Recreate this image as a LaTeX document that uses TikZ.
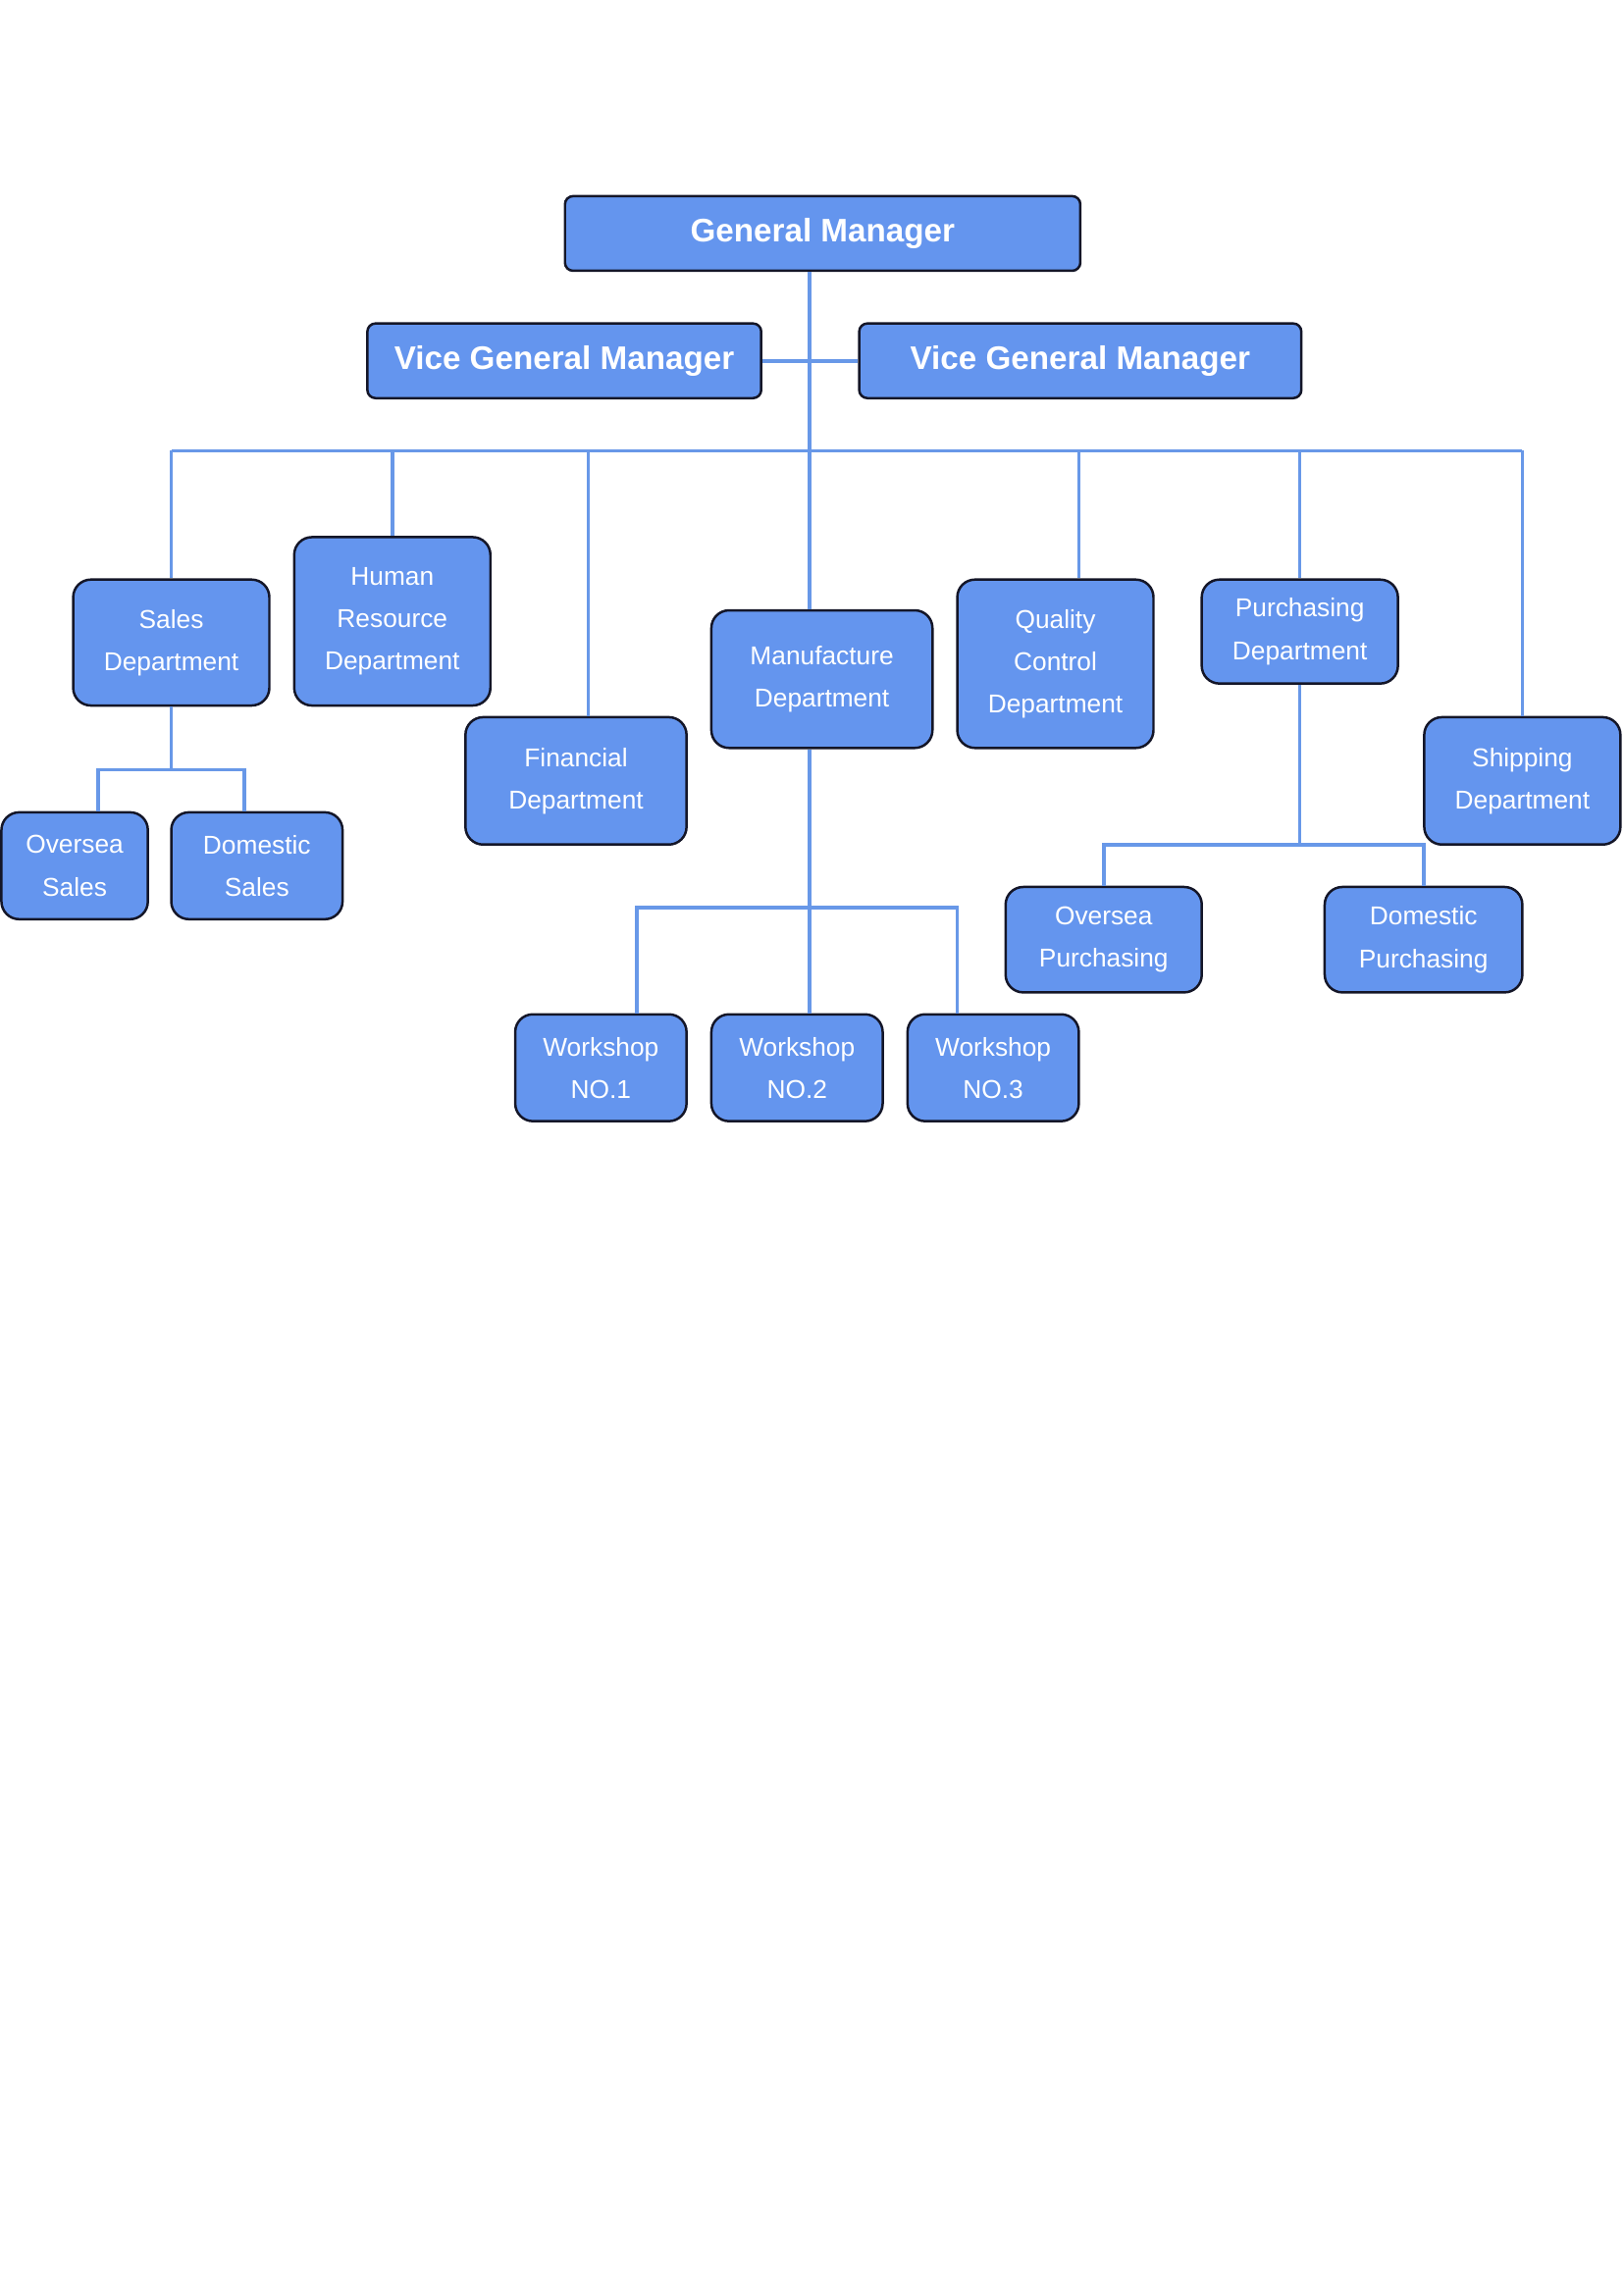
\documentclass[tikz,border=0pt]{standalone}
\usepackage{fontspec}
\setmainfont{Liberation Sans}
\usepackage{tikz}
\usetikzlibrary{positioning,calc}

\definecolor{boxblue}{RGB}{100,149,238}
\definecolor{linkblue}{RGB}{104,152,232}
\definecolor{boxline}{RGB}{20,22,40}

\begin{document}
\begin{tikzpicture}[x=0.01894cm, y=-0.01894cm,
    boxsize/.style 2 args={minimum width=#1*0.5389pt, minimum height=#2*0.5389pt},
    unit/.style={draw=boxline, line width=0.9pt, fill=boxblue, text=white,
        rounded corners=6.5pt, inner sep=1pt, align=center,
        font=\fontsize{9.5}{15.6}\selectfont},
    head/.style={unit, rounded corners=3pt,
        font=\bfseries\fontsize{12}{14}\selectfont},
    link/.style={draw=linkblue, line width=1.3pt}]
    \useasboundingbox (0,0) rectangle (1109,1568);

    % Direzione
    \node[head, boxsize={352}{51}] (gm) at (562,159.5) {General Manager};
    \node[head, boxsize={269}{51}] (vgml) at (385.5,246.5) {Vice General Manager};
    \node[head, boxsize={302}{51}] (vgmr) at (738,246.5) {Vice General Manager};

    % Reparti
    \node[unit, boxsize={134}{86}] (sales) at (117,439) {Sales\\Department};
    \node[unit, boxsize={134}{115}] (hr) at (268,424.5) {Human\\Resource\\Department};
    \node[unit, boxsize={151}{87}] (fin) at (393.5,533.5) {Financial\\Department};
    \node[unit, boxsize={151}{94}] (mfg) at (561.5,464) {Manufacture\\Department};
    \node[unit, boxsize={134}{115}] (qc) at (721,453.5) {Quality\\Control\\Department};
    \node[unit, boxsize={134}{71}] (pur) at (888,431.5) {Purchasing\\Department};
    \node[unit, boxsize={134}{87}] (ship) at (1040,533.5) {Shipping\\Department};

    % Sottoreparti
    \node[unit, boxsize={100}{73}] (os) at (51,591.5) {Oversea\\Sales};
    \node[unit, boxsize={117}{73}] (ds) at (175.5,591.5) {Domestic\\Sales};
    \node[unit, boxsize={134}{72}] (op) at (754,642) {Oversea\\Purchasing};
    \node[unit, boxsize={135}{72}] (dp) at (972.5,642) {Domestic\\Purchasing};
    \node[unit, boxsize={117}{73}] (ws1) at (410.5,729.5) {Workshop\\NO.1};
    \node[unit, boxsize={117}{73}] (ws2) at (544.5,729.5) {Workshop\\NO.2};
    \node[unit, boxsize={117}{73}] (ws3) at (678.5,729.5) {Workshop\\NO.3};

    % Punti di raccordo
    \coordinate (trunk) at (553,308);
    \foreach \n/\x in {sales/117, hr/268, fin/402, qc/737, pur/888, ship/1040}
        \coordinate (b-\n) at (\x,308);
    \coordinate (s-os) at (67,526);
    \coordinate (s-ds) at (167,526);
    \coordinate (m-w1) at (435,620);
    \coordinate (m-w3) at (654,620);
    \coordinate (pjoin) at (888,577);

    % Linee
    \draw[link] (gm.south -| trunk) -- (trunk |- mfg.north);
    \draw[link] (vgml.east) -- (vgmr.west);
    \draw[link] (b-sales) -- (b-ship);
    \foreach \n in {sales, hr, fin, qc, pur, ship}
        \draw[link] (b-\n) -- (b-\n |- \n.north);

    \draw[link] (sales.south) -- (sales.south |- s-os);
    \draw[link] (s-os |- os.north) -- (s-os) -- (s-ds) -- (s-ds |- ds.north);

    \draw[link] (mfg.south -| trunk) -- (trunk |- ws2.north);
    \draw[link] (m-w1 |- ws1.north) -- (m-w1) -- (m-w3) -- (m-w3 |- ws3.north);

    \draw[link] (pur.south) -- (pjoin);
    \draw[link] (op.north) |- (pjoin) -| (dp.north);
\end{tikzpicture}
\end{document}
